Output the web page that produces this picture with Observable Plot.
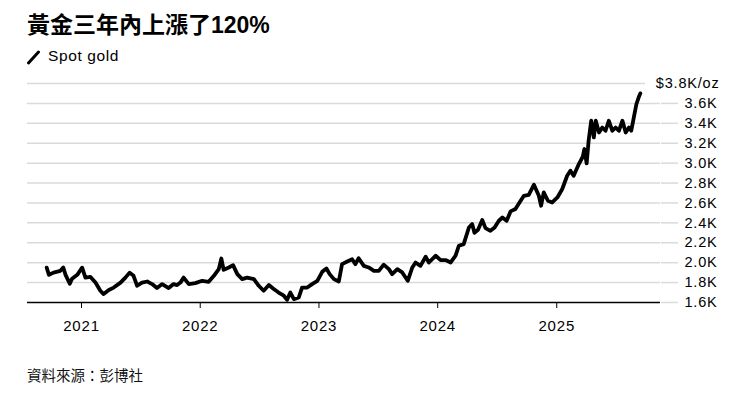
<!DOCTYPE html>
<html>
<head>
<meta charset="utf-8">
<script src="https://cdn.jsdelivr.net/npm/d3@7"></script>
<script src="https://cdn.jsdelivr.net/npm/@observablehq/plot@0.6"></script>
<style>
  body { margin: 0; background: #fff; }
  #wrap { position: relative; width: 740px; height: 393px; overflow: hidden; font-family: "Liberation Sans", Arial, "Noto Sans CJK TC", sans-serif; color: #000; }
  #title { position: absolute; left: 27px; top: 10px; font-size: 23px; font-weight: bold; line-height: 30px; font-family: "Liberation Sans", Arial, "Noto Sans CJK TC", sans-serif; white-space: nowrap; }
  #legend { position: absolute; left: 27px; top: 47px; height: 18px; font-size: 15.5px; line-height: 18px; letter-spacing: 0.6px; white-space: nowrap; }
  #legend svg { position: absolute; left: 0; top: 1px; }
  #legend span { position: absolute; left: 21px; top: 0; }
  #chart { position: absolute; left: 0; top: 70px; }
  #chart svg text { letter-spacing: 0.8px; }
  #caption { position: absolute; left: 27px; top: 365px; font-size: 14.5px; line-height: 20px; font-family: "Noto Sans CJK TC", sans-serif; color: #111; white-space: nowrap; }
</style>
</head>
<body>
<div id="wrap">
  <div id="title">黃金三年內上漲了120%</div>
  <div id="legend"><svg width="16" height="18"><line x1="1.5" y1="15" x2="11.5" y2="4" stroke="#000" stroke-width="3" stroke-linecap="round"/></svg><span>Spot gold</span></div>
  <div id="chart"></div>
  <div id="caption">資料來源：彭博社</div>
</div>
<script>
const dates = [
  "2020-09-16","2020-09-23","2020-10-07","2020-10-28","2020-11-06","2020-11-13","2020-11-26","2020-12-03","2020-12-19",
  "2021-01-03","2021-01-13","2021-01-28","2021-02-13","2021-02-28","2021-03-10","2021-03-26","2021-04-10","2021-05-01",
  "2021-05-16","2021-05-29","2021-06-10","2021-06-21","2021-07-06","2021-07-22","2021-08-06","2021-08-21","2021-09-06",
  "2021-09-26","2021-10-11","2021-10-22","2021-11-01","2021-11-11","2021-11-27","2021-12-17",
  "2022-01-07","2022-01-27","2022-02-12","2022-02-27","2022-03-07","2022-03-14","2022-03-30","2022-04-12","2022-04-25",
  "2022-05-10","2022-05-25","2022-06-15","2022-06-30","2022-07-15","2022-07-31","2022-08-15","2022-08-30","2022-09-15",
  "2022-09-25","2022-10-05","2022-10-16","2022-10-31","2022-11-10","2022-11-26","2022-12-11","2022-12-27",
  "2023-01-11","2023-01-24","2023-02-03","2023-02-16","2023-03-03","2023-03-13","2023-03-29","2023-04-13","2023-04-23",
  "2023-05-03","2023-05-19","2023-06-03","2023-06-19","2023-07-04","2023-07-19","2023-08-04","2023-08-14","2023-08-30",
  "2023-09-14","2023-10-01","2023-10-15","2023-10-25","2023-11-09","2023-11-25","2023-12-05","2023-12-26",
  "2024-01-10","2024-01-25","2024-02-10","2024-02-25","2024-03-06","2024-03-21","2024-04-06","2024-04-16","2024-04-23",
  "2024-05-04","2024-05-17","2024-05-27","2024-06-11","2024-06-24","2024-07-07","2024-07-18","2024-07-31","2024-08-12",
  "2024-08-27","2024-09-12","2024-09-22","2024-10-07","2024-10-23","2024-11-07","2024-11-14","2024-11-22","2024-12-05",
  "2024-12-18",
  "2025-01-03","2025-01-18","2025-02-02","2025-02-12","2025-02-22","2025-03-10","2025-03-22","2025-03-27","2025-04-03",
  "2025-04-09","2025-04-17","2025-04-25","2025-05-01","2025-05-11","2025-05-21","2025-05-31","2025-06-10","2025-06-21",
  "2025-07-01","2025-07-11","2025-07-22","2025-08-01","2025-08-11","2025-08-18","2025-08-26","2025-09-03","2025-09-10",
  "2025-09-15"
];
const prices = [
  1950,1878,1900,1918,1952,1878,1788,1838,1878,
  1950,1850,1858,1800,1718,1685,1725,1750,1800,
  1850,1900,1868,1768,1800,1811,1785,1745,1785,
  1745,1785,1775,1800,1850,1785,1795,
  1818,1808,1868,1935,2042,1928,1952,1975,1885,
  1835,1850,1835,1768,1718,1775,1735,1700,1668,
  1627,1700,1634,1650,1750,1750,1785,1818,
  1908,1942,1885,1835,1811,1985,2012,2035,1985,
  2045,1968,1952,1918,1918,1980,1935,1885,1935,
  1902,1818,1952,2002,1968,2060,2002,2070,
  2026,2026,2002,2070,2170,2186,2354,2388,2300,
  2330,2428,2347,2320,2354,2421,2454,2421,2515,
  2539,2622,2672,2682,2783,2672,2572,2706,2622,
  2605,
  2655,2740,2873,2924,2873,2991,3064,3142,2997,
  3225,3426,3258,3426,3308,3358,3325,3426,3325,
  3358,3325,3426,3308,3358,3325,3459,3594,3661,
  3701
];
const yTicks = [1600,1800,2000,2200,2400,2600,2800,3000,3200,3400,3600];
const topTick = [3800];
const yearTicks = [2021,2022,2023,2024,2025];

const data = dates.map((d, i) => ({date: new Date(d), price: prices[i]}));
const yearDates = yearTicks.map(y => new Date(Date.UTC(y, 0, 1)));
const fmtK = v => (v / 1000).toFixed(1) + "K";

const chart = Plot.plot({
  width: 740,
  height: 270,
  marginLeft: 27,
  marginRight: 80,
  marginTop: 13,
  marginBottom: 38,
  style: {fontFamily: "'Liberation Sans', Arial, sans-serif", color: "#000", background: "transparent"},
  x: {type: "utc", domain: [new Date("2020-07-19"), new Date("2025-11-16")]},
  y: {domain: [1600, 3800]},
  marks: [
    Plot.gridY(yTicks.slice(1), {stroke: "#dadada", strokeOpacity: 1, strokeWidth: 1.5}),
    Plot.gridY(topTick, {stroke: "#dadada", strokeOpacity: 1, strokeWidth: 1.5, insetRight: 15}),
    Plot.axisY(yTicks, {anchor: "right", tickSize: 17, tickPadding: 7, stroke: "#dadada", strokeWidth: 1.5, fill: "#000", fontSize: 14.5, tickFormat: fmtK, label: null}),
    Plot.axisY(topTick, {anchor: "right", tickSize: 0, tickPadding: 59, textAnchor: "end", fill: "#000", fontSize: 14.5, tickFormat: v => "$" + fmtK(v) + "/oz", label: null}),
    Plot.ruleY([1600], {stroke: "#000", strokeWidth: 1.5}),
    Plot.axisX(yearDates, {tickSize: 6, tickPadding: 12, stroke: "#000", fill: "#000", fontSize: 15, tickFormat: d => String(d.getUTCFullYear()), label: null}),
    Plot.lineY(data, {x: "date", y: "price", stroke: "#000", strokeWidth: 3.8, strokeLinejoin: "round", strokeLinecap: "round"})
  ]
});
document.getElementById("chart").appendChild(chart);
</script>
</body>
</html>
